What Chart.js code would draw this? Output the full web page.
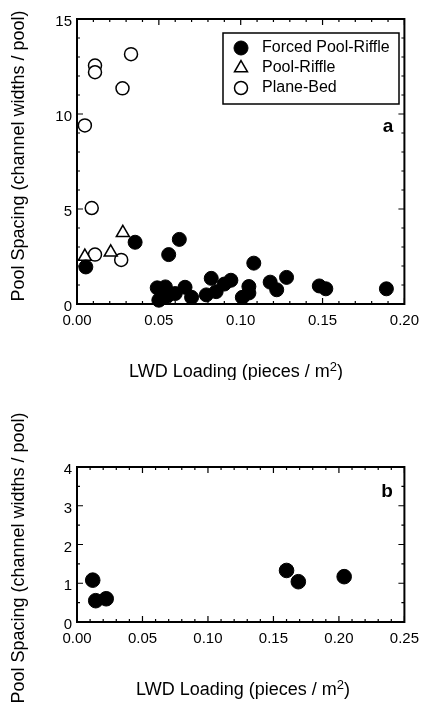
<!DOCTYPE html>
<html>
<head>
<meta charset="utf-8">
<script src="https://cdn.jsdelivr.net/npm/chart.js@4.4.1/dist/chart.umd.min.js"></script>
<style>
html, body { margin: 0; padding: 0; background: #fff; }
body { width: 427px; height: 717px; position: relative; overflow: hidden; }
#wrapA { position: absolute; left: 0; top: 0; width: 427px; height: 380px; }
#wrapB { position: absolute; left: 0; top: 380px; width: 427px; height: 337px; }
</style>
</head>
<body>
<div id="wrapA"><canvas id="chartA"></canvas></div>
<div id="wrapB"><canvas id="chartB"></canvas></div>
<script>
// PANEL A DATA (LWD loading vs pool spacing)
const aForcedLoading = [0.0054, 0.0355, 0.056, 0.0625, 0.049, 0.054, 0.050, 0.055, 0.060, 0.066, 0.070, 0.079, 0.082, 0.085, 0.090, 0.094, 0.101, 0.105, 0.105, 0.108, 0.118, 0.122, 0.128, 0.148, 0.152, 0.189];
const aForcedSpacing = [1.95, 3.25, 2.6, 3.4, 0.85, 0.9, 0.2, 0.4, 0.55, 0.88, 0.35, 0.48, 1.35, 0.65, 1.05, 1.25, 0.35, 0.92, 0.58, 2.15, 1.15, 0.75, 1.4, 0.95, 0.8, 0.8];
const aRiffleLoading = [0.0048, 0.0206, 0.028];
const aRiffleSpacing = [2.5, 2.72, 3.75];
const aPlaneLoading = [0.0048, 0.009, 0.011, 0.011, 0.0278, 0.033, 0.011, 0.027];
const aPlaneSpacing = [9.4, 5.05, 12.55, 12.2, 11.35, 13.15, 2.6, 2.32];
const aXTicks = [0, 0.05, 0.10, 0.15, 0.20];
const aYTicks = [0, 5, 10, 15];

// PANEL B DATA
const bForcedLoading = [0.012, 0.0143, 0.0223, 0.160, 0.169, 0.204];
const bForcedSpacing = [1.08, 0.55, 0.6, 1.33, 1.04, 1.17];
const bXTicks = [0, 0.05, 0.10, 0.15, 0.20, 0.25];
const bYTicks = [0, 1, 2, 3, 4];

const seriesNames = ['Forced Pool-Riffle', 'Pool-Riffle', 'Plane-Bed'];
const yTitle = 'Pool Spacing (channel widths / pool)';
const xTitle = 'LWD Loading (pieces / m';
const FONT = '"Liberation Sans", Arial, Helvetica, sans-serif';

function pts(xs, ys) {
	return xs.map(function(v, i) { return {x: v, y: ys[i]}; });
}

// FRAME, INWARD TICKS, TITLES, PANEL LETTER
const framePlugin = {
	id: 'frame',
	beforeDatasetsDraw: function(chart, args, o) {
		var ctx = chart.ctx, ca = chart.chartArea;
		var x = chart.scales.x, y = chart.scales.y;
		ctx.save();
		ctx.strokeStyle = '#000';
		ctx.lineWidth = 1.2;
		var n = Math.round((x.max - x.min) / o.xMinor);
		for (var i = 0; i <= n; i++) {
			var px = x.getPixelForValue(x.min + i * o.xMinor);
			var len = (i % o.xEvery === 0) ? 6 : 3;
			ctx.beginPath();
			ctx.moveTo(px, ca.bottom); ctx.lineTo(px, ca.bottom - len);
			ctx.moveTo(px, ca.top); ctx.lineTo(px, ca.top + len);
			ctx.stroke();
		}
		n = Math.round((y.max - y.min) / o.yMinor);
		for (var j = 0; j <= n; j++) {
			var py = y.getPixelForValue(y.min + j * o.yMinor);
			var ln = (j % o.yEvery === 0) ? 6 : 3;
			ctx.beginPath();
			ctx.moveTo(ca.left, py); ctx.lineTo(ca.left + ln, py);
			ctx.moveTo(ca.right, py); ctx.lineTo(ca.right - ln, py);
			ctx.stroke();
		}
		ctx.lineWidth = 2;
		ctx.strokeRect(ca.left, ca.top, ca.right - ca.left, ca.bottom - ca.top);

		// panel letter
		ctx.fillStyle = '#000';
		ctx.font = 'bold 19px ' + FONT;
		ctx.textAlign = 'center';
		ctx.textBaseline = 'middle';
		ctx.fillText(o.letter, o.letterX, o.letterY);

		// y title
		ctx.font = '18px ' + FONT;
		ctx.save();
		ctx.translate(o.yTitleX, o.yTitleY);
		ctx.rotate(-Math.PI / 2);
		ctx.fillText(yTitle, 0, 0);
		ctx.restore();

		// x title with superscript 2
		ctx.textBaseline = 'alphabetic';
		ctx.textAlign = 'left';
		var w1 = ctx.measureText(xTitle).width;
		ctx.font = '13px ' + FONT;
		var w2 = ctx.measureText('2').width;
		ctx.font = '18px ' + FONT;
		var w3 = ctx.measureText(')').width;
		var sx = o.xTitleX - (w1 + w2 + w3) / 2;
		ctx.fillText(xTitle, sx, o.xTitleY);
		ctx.font = '13px ' + FONT;
		ctx.fillText('2', sx + w1, o.xTitleY - 6);
		ctx.font = '18px ' + FONT;
		ctx.fillText(')', sx + w1 + w2, o.xTitleY);
		ctx.restore();
	}
};

// BOXED LEGEND INSIDE PANEL A
const boxLegend = {
	id: 'boxLegend',
	afterDatasetsDraw: function(chart, args, o) {
		if (!o.show) return;
		var ctx = chart.ctx;
		ctx.save();
		ctx.fillStyle = '#fff';
		ctx.fillRect(o.left, o.top, o.right - o.left, o.bottom - o.top);
		ctx.strokeStyle = '#000';
		ctx.lineWidth = 1.5;
		ctx.strokeRect(o.left, o.top, o.right - o.left, o.bottom - o.top);
		chart.data.datasets.forEach(function(ds, i) {
			var ry = o.rows[i];
			ctx.fillStyle = ds.pointBackgroundColor;
			ctx.strokeStyle = ds.pointBorderColor;
			ctx.lineWidth = ds.pointBorderWidth;
			Chart.helpers.drawPoint(ctx, {pointStyle: ds.pointStyle, radius: ds.pointRadius, borderWidth: ds.pointBorderWidth, rotation: 0}, o.markerX, ry);
			ctx.fillStyle = '#000';
			ctx.font = '16px ' + FONT;
			ctx.textAlign = 'left';
			ctx.textBaseline = 'middle';
			ctx.fillText(ds.label, o.textX, ry);
		});
		ctx.restore();
	}
};

function axes(xmin, xmax, xt, ymax, yt, xh, yw) {
	return {
		x: {
			type: 'linear', min: xmin, max: xmax,
			afterBuildTicks: function(s) { s.ticks = xt.map(function(v) { return {value: v}; }); },
			afterFit: function(s) { s.height = xh; },
			ticks: {
				callback: function(v) { return v.toFixed(2); },
				color: '#000', font: {family: FONT, size: 15}, padding: 8,
				maxRotation: 0, autoSkip: false
			},
			grid: {display: false, drawTicks: false},
			border: {display: false}
		},
		y: {
			type: 'linear', min: 0, max: ymax,
			afterBuildTicks: function(s) { s.ticks = yt.map(function(v) { return {value: v}; }); },
			afterFit: function(s) { s.width = yw; },
			ticks: {
				color: '#000', font: {family: FONT, size: 15}, padding: 5,
				labelOffset: 3, autoSkip: false
			},
			grid: {display: false, drawTicks: false},
			border: {display: false}
		}
	};
}

var chartA = new Chart(document.getElementById('chartA').getContext('2d'), {
	type: 'scatter',
	data: {
		datasets: [{
			label: seriesNames[0],
			data: pts(aForcedLoading, aForcedSpacing),
			pointStyle: 'circle', pointRadius: 7,
			pointBackgroundColor: '#000', pointBorderColor: '#000', pointBorderWidth: 1,
			clip: false
		}, {
			label: seriesNames[1],
			data: pts(aRiffleLoading, aRiffleSpacing),
			pointStyle: 'triangle', pointRadius: 7.5,
			pointBackgroundColor: '#fff', pointBorderColor: '#000', pointBorderWidth: 1.5,
			clip: false
		}, {
			label: seriesNames[2],
			data: pts(aPlaneLoading, aPlaneSpacing),
			pointStyle: 'circle', pointRadius: 6.5,
			pointBackgroundColor: '#fff', pointBorderColor: '#000', pointBorderWidth: 1.5,
			clip: false
		}]
	},
	options: {
		responsive: true,
		maintainAspectRatio: false,
		animation: false,
		layout: {padding: {top: 19, right: 14, bottom: 0, left: 0}},
		scales: axes(0, 0.2, aXTicks, 15, aYTicks, 76, 77),
		plugins: {
			legend: {display: false},
			tooltip: {enabled: false},
			frame: {xMinor: 0.01, xEvery: 5, yMinor: 1, yEvery: 5, letter: 'a', letterX: 388, letterY: 127,
				yTitleX: 19, yTitleY: 156, xTitleX: 236, xTitleY: 377},
			boxLegend: {show: true, left: 223, top: 33, right: 399, bottom: 104, rows: [48, 68, 88], markerX: 241, textX: 262}
		}
	},
	plugins: [framePlugin, boxLegend]
});

var chartB = new Chart(document.getElementById('chartB').getContext('2d'), {
	type: 'scatter',
	data: {
		datasets: [{
			label: seriesNames[0],
			data: pts(bForcedLoading, bForcedSpacing),
			pointStyle: 'circle', pointRadius: 7.3,
			pointBackgroundColor: '#000', pointBorderColor: '#000', pointBorderWidth: 1,
			clip: false
		}]
	},
	options: {
		responsive: true,
		maintainAspectRatio: false,
		animation: false,
		layout: {padding: {top: 87, right: 17, bottom: 0, left: 0}},
		scales: axes(0, 0.25, bXTicks, 4, bYTicks, 95, 77),
		plugins: {
			legend: {display: false},
			tooltip: {enabled: false},
			frame: {xMinor: 0.01, xEvery: 5, yMinor: 0.5, yEvery: 2, letter: 'b', letterX: 387, letterY: 112,
				yTitleX: 19, yTitleY: 178, xTitleX: 243, xTitleY: 315},
			boxLegend: {show: false}
		}
	},
	plugins: [framePlugin, boxLegend]
});
</script>
</body>
</html>
